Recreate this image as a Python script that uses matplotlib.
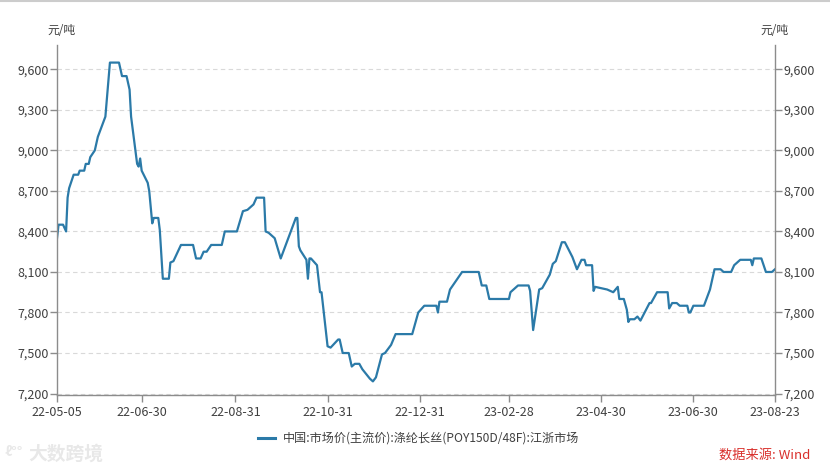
import matplotlib
matplotlib.use("Agg")
import matplotlib.pyplot as plt
import matplotlib.dates as mdates
import pandas as pd
from matplotlib.lines import Line2D

plt.rcParams['font.family'] = ['Noto Sans CJK SC', 'DejaVu Sans']

dates = [
    "2022-05-05", "2022-05-06", "2022-05-09", "2022-05-11", "2022-05-12", "2022-05-13",
    "2022-05-16", "2022-05-19", "2022-05-20", "2022-05-23", "2022-05-24", "2022-05-26",
    "2022-05-27", "2022-05-30", "2022-06-01", "2022-06-06", "2022-06-09", "2022-06-15",
    "2022-06-17", "2022-06-20", "2022-06-22", "2022-06-23", "2022-06-27", "2022-06-28",
    "2022-06-29", "2022-06-30", "2022-07-04", "2022-07-05", "2022-07-07", "2022-07-08",
    "2022-07-11", "2022-07-12", "2022-07-14", "2022-07-18", "2022-07-19", "2022-07-21",
    "2022-07-26", "2022-08-03", "2022-08-05", "2022-08-08", "2022-08-10", "2022-08-12",
    "2022-08-15", "2022-08-22", "2022-08-24", "2022-09-01", "2022-09-05", "2022-09-08",
    "2022-09-12", "2022-09-14", "2022-09-19", "2022-09-20", "2022-09-22", "2022-09-26",
    "2022-09-30", "2022-10-10", "2022-10-11", "2022-10-12", "2022-10-13", "2022-10-17",
    "2022-10-18", "2022-10-19", "2022-10-20", "2022-10-24", "2022-10-26", "2022-10-27",
    "2022-10-31", "2022-11-02", "2022-11-07", "2022-11-08", "2022-11-10", "2022-11-14",
    "2022-11-16", "2022-11-18", "2022-11-21", "2022-11-23", "2022-11-28", "2022-11-30",
    "2022-12-02", "2022-12-06", "2022-12-08", "2022-12-12", "2022-12-15", "2022-12-26",
    "2022-12-30", "2023-01-03", "2023-01-11", "2023-01-12", "2023-01-13", "2023-01-18",
    "2023-01-20", "2023-01-28", "2023-02-08", "2023-02-10", "2023-02-13", "2023-02-15",
    "2023-02-28", "2023-03-01", "2023-03-06", "2023-03-13", "2023-03-14", "2023-03-16",
    "2023-03-20", "2023-03-22", "2023-03-27", "2023-03-29", "2023-03-31", "2023-04-04",
    "2023-04-06", "2023-04-11", "2023-04-14", "2023-04-17", "2023-04-19", "2023-04-20",
    "2023-04-24", "2023-04-25", "2023-04-26", "2023-05-04", "2023-05-08", "2023-05-11",
    "2023-05-12", "2023-05-15", "2023-05-17", "2023-05-18", "2023-05-19", "2023-05-22",
    "2023-05-24", "2023-05-26", "2023-06-01", "2023-06-02", "2023-06-05", "2023-06-06",
    "2023-06-13", "2023-06-14", "2023-06-16", "2023-06-19", "2023-06-21", "2023-06-26",
    "2023-06-27", "2023-06-28", "2023-06-30", "2023-07-07", "2023-07-11", "2023-07-14",
    "2023-07-18", "2023-07-20", "2023-07-25", "2023-07-27", "2023-07-31", "2023-08-07",
    "2023-08-08", "2023-08-09", "2023-08-14", "2023-08-17", "2023-08-21", "2023-08-23",
]
prices = [
    8350, 8450, 8450, 8400, 8650, 8720,
    8820, 8820, 8850, 8850, 8900, 8900,
    8950, 9000, 9100, 9250, 9650, 9650,
    9550, 9550, 9450, 9250, 8900, 8880,
    8940, 8850, 8760, 8700, 8460, 8500,
    8500, 8410, 8050, 8050, 8170, 8180,
    8300, 8300, 8200, 8200, 8250, 8250,
    8300, 8300, 8400, 8400, 8550, 8560,
    8600, 8650, 8650, 8400, 8390, 8350,
    8200, 8500, 8500, 8290, 8260, 8190,
    8050, 8200, 8200, 8150, 7950, 7950,
    7550, 7540, 7600, 7600, 7500, 7500,
    7400, 7420, 7420, 7380, 7310, 7290,
    7320, 7490, 7500, 7560, 7640, 7640,
    7800, 7850, 7850, 7800, 7880, 7880,
    7970, 8100, 8100, 8000, 8000, 7900,
    7900, 7950, 8000, 8000, 7960, 7670,
    7970, 7980, 8080, 8160, 8180, 8320,
    8320, 8210, 8120, 8190, 8190, 8150,
    8150, 7960, 7990, 7970, 7950, 7990,
    7900, 7900, 7820, 7730, 7750, 7750,
    7770, 7740, 7870, 7870, 7930, 7950,
    7950, 7830, 7870, 7870, 7850, 7850,
    7800, 7800, 7850, 7850, 7970, 8120,
    8120, 8100, 8100, 8150, 8190, 8190,
    8150, 8200, 8200, 8100, 8100, 8120,
]
tick_dates = ["2022-05-05", "2022-06-30", "2022-08-31", "2022-10-31", "2022-12-31",
              "2023-02-28", "2023-04-30", "2023-06-30", "2023-08-23"]
tick_labels = ["22-05-05", "22-06-30", "22-08-31", "22-10-31", "22-12-31",
               "23-02-28", "23-04-30", "23-06-30", "23-08-23"]
y_ticks = [7200, 7500, 7800, 8100, 8400, 8700, 9000, 9300, 9600]
series_name = "中国:市场价(主流价):涤纶长丝(POY150D/48F):江浙市场"
unit = "元/吨"

x = pd.to_datetime(dates)
tx = pd.to_datetime(tick_dates)

fig = plt.figure(figsize=(8.30, 4.69), dpi=100)
ax = fig.add_axes([0.0687, 0.158, 0.865, 0.746])

line_color = '#2b7aa8'
axis_color = '#8c8c8c'
text_color = '#404040'

ax.plot(x, prices, color=line_color, lw=1.6, solid_joinstyle='round')
ax.set_xlim(tx[0], tx[-1])
ax.set_ylim(7190, 9780)

ax.set_yticks(y_ticks)
ax.set_yticklabels([f"{v:,}" for v in y_ticks])
ax.set_xticks(tx)
ax.set_xticklabels(tick_labels)

ax.grid(axis='y', color='#d9d9d9', linestyle=(0, (4, 3)), lw=0.8)
ax.set_axisbelow(True)

for s in ['top']:
    ax.spines[s].set_visible(False)
for s in ['left', 'right', 'bottom']:
    ax.spines[s].set_color(axis_color)
    ax.spines[s].set_linewidth(1.0)

ax.tick_params(axis='both', colors=axis_color, labelcolor=text_color, labelsize=9,
               length=5, width=1.0, direction='out')
ax.tick_params(axis='y', right=True, labelright=True, pad=1)
ax.tick_params(axis='x', pad=3)

fig.text(0.0566, 0.935, unit, fontsize=8.5, color=text_color, ha='left', va='center')
fig.text(0.916, 0.935, unit, fontsize=8.5, color=text_color, ha='left', va='center')

# legend
fig.add_artist(Line2D([0.311, 0.331], [0.066, 0.066], color=line_color, lw=2.2,
                      transform=fig.transFigure))
fig.text(0.341, 0.066, series_name, fontsize=8.7, color=text_color, ha='left', va='center')

# watermark and source
fig.text(0.006, 0.036, "ℓ°°", fontsize=10, color='#e8e8e8', ha='left', va='center',
         fontweight='bold')
fig.text(0.034, 0.032, "大数跨境", fontsize=13.5, color='#e8e8e8', ha='left', va='center',
         fontweight='bold')
fig.text(0.976, 0.030, "数据来源: Wind", fontsize=9.5, color='#d9302c', ha='right', va='center')

# top frame line
fig.add_artist(Line2D([0, 1], [0.997, 0.997], color='#cccccc', lw=1.5,
                      transform=fig.transFigure))

fig.savefig("out.png", dpi=100)
